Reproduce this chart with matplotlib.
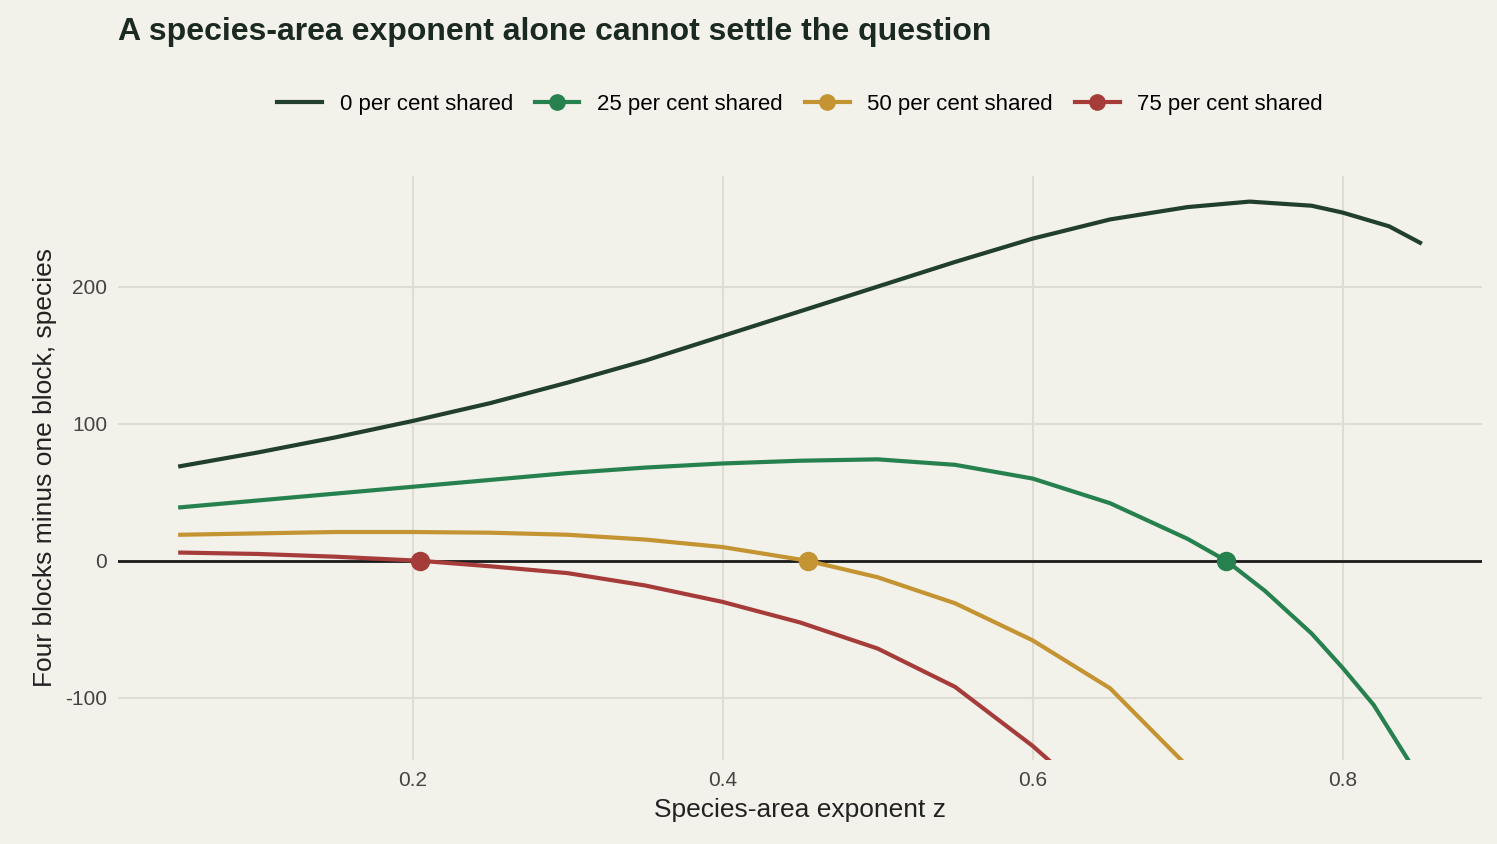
import matplotlib
matplotlib.use("Agg")
import matplotlib.pyplot as plt
from matplotlib.lines import Line2D

plt.rcParams['font.family'] = ['Liberation Sans', 'DejaVu Sans']

z0 = [0.05, 0.1, 0.15, 0.2, 0.25, 0.3, 0.35, 0.4, 0.45, 0.5, 0.55, 0.6, 0.65, 0.7, 0.74, 0.78, 0.8, 0.83, 0.85]
v0 = [69, 79, 90, 102, 115, 130, 146, 164, 182, 200, 218, 235, 249, 258, 262, 259, 254, 244, 232]
z25 = [0.05, 0.1, 0.15, 0.2, 0.25, 0.3, 0.35, 0.4, 0.45, 0.5, 0.55, 0.6, 0.65, 0.7, 0.725, 0.75, 0.78, 0.8, 0.82, 0.845]
v25 = [39, 44, 49, 54, 59, 64, 68, 71, 73, 74, 70, 60, 42, 16, 0, -22, -53, -78, -105, -150]
z50 = [0.05, 0.1, 0.15, 0.2, 0.25, 0.3, 0.35, 0.4, 0.455, 0.5, 0.55, 0.6, 0.65, 0.7]
v50 = [19, 20, 21, 21, 20.5, 19, 15.5, 10, 0, -12, -31, -58, -93, -150]
z75 = [0.05, 0.1, 0.15, 0.205, 0.25, 0.3, 0.35, 0.4, 0.45, 0.5, 0.55, 0.6, 0.615]
v75 = [6, 5, 3, 0, -4, -9, -18, -30, -45, -64, -92, -135, -150]
cross_z = [0.725, 0.455, 0.205]
labels = ["0 per cent shared", "25 per cent shared", "50 per cent shared", "75 per cent shared"]
colors = ["#213f2c", "#27814f", "#c39431", "#a63c3a"]

bg = "#f2f1ea"
fig = plt.figure(figsize=(14.97, 8.44), dpi=100, facecolor=bg)
ax = fig.add_axes([0.079, 0.1, 0.911, 0.692], facecolor=bg)
ax.set_xlim(0.01, 0.89)
ax.set_ylim(-145, 281)
ax.grid(color="#deddd3", lw=1.5)
ax.set_axisbelow(True)
for s in ax.spines.values():
    s.set_visible(False)
ax.tick_params(length=0, labelsize=15, colors="#444444", pad=8)
ax.set_xticks([0.2, 0.4, 0.6, 0.8])
ax.set_xticklabels(["0.2", "0.4", "0.6", "0.8"])
ax.set_yticks([-100, 0, 100, 200])
ax.set_yticklabels(["-100", "0", "100", "200"])
ax.axhline(0, color="#1a1a1a", lw=2)

series = [(z0, v0), (z25, v25), (z50, v50), (z75, v75)]
for i, (z, v) in enumerate(series):
    ax.plot(z, v, color=colors[i], lw=3)
for i, cz in enumerate(cross_z):
    ax.plot([cz], [0], "o", color=colors[i + 1], markersize=13, zorder=5, clip_on=False)

handles = [Line2D([], [], color=colors[0], lw=3)]
for i in range(1, 4):
    handles.append(Line2D([], [], color=colors[i], lw=3, marker="o", markersize=11))
ax.legend(handles=handles, labels=labels, loc="lower center", bbox_to_anchor=(0.5, 1.07), ncol=4,
          frameon=False, fontsize=16, handlelength=2.0, columnspacing=1.0, handletextpad=0.8)

ax.set_xlabel("Species-area exponent z", fontsize=19, color="#222222", labelpad=6)
ax.set_ylabel("Four blocks minus one block, species", fontsize=19, color="#222222", labelpad=6)
fig.text(0.079, 0.962, "A species-area exponent alone cannot settle the question",
         fontsize=23, fontweight="bold", color="#1a2a22", va="center")
fig.savefig("out.png", facecolor=bg)
